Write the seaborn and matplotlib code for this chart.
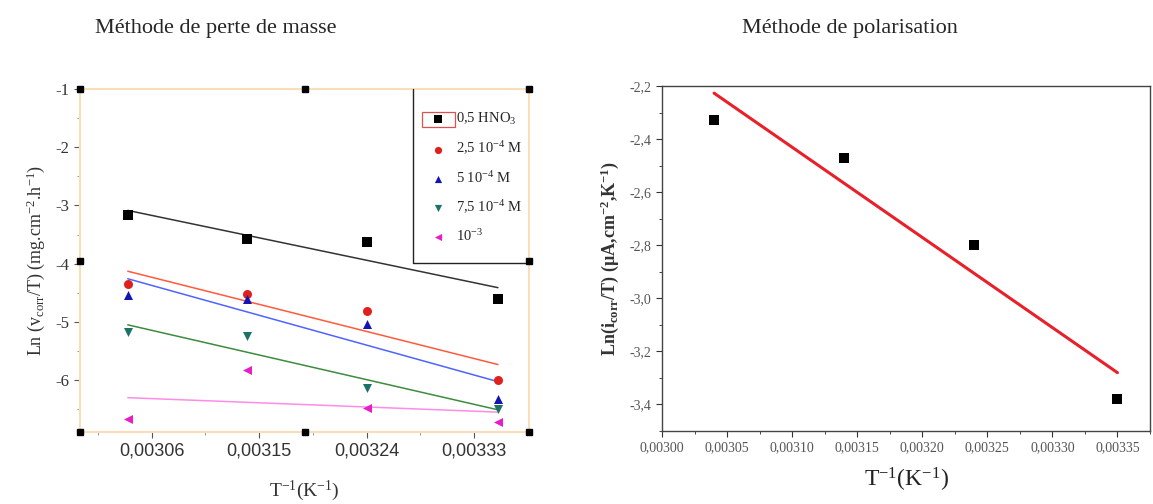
import numpy as np
import pandas as pd
import matplotlib
matplotlib.use("Agg")
import matplotlib.pyplot as plt
import matplotlib.ticker as mticker
from matplotlib.patches import Rectangle
import seaborn as sns

# inverse temperatures (1/K)
inv_T = [0.00304, 0.00314, 0.00324, 0.00335]

# left panel: mass loss method, Ln(v_corr/T)
ln_v_blank = [-3.16, -3.57, -3.62, -4.60]
ln_v_25 = [-4.34, -4.52, -4.81, -6.00]
ln_v_5 = [-4.54, -4.60, -5.04, -6.33]
ln_v_75 = [-5.18, -5.25, -6.14, -6.50]
ln_v_10 = [-6.67, -5.83, -6.47, -6.72]
series_labels = ["0,5 HNO$\\mathregular{_3}$", "2,5 10$\\mathregular{^{-4}}$ M",
                 "5 10$\\mathregular{^{-4}}$ M", "7,5 10$\\mathregular{^{-4}}$ M",
                 "10$\\mathregular{^{-3}}$"]

# right panel: polarisation method, Ln(i_corr/T)
ln_i = [-2.33, -2.47, -2.80, -3.38]

sns.set_style("ticks")
plt.rcParams['font.family'] = ['Liberation Serif', 'DejaVu Serif']
plt.rcParams['mathtext.fontset'] = 'stix'

fig = plt.figure(figsize=(11.53, 5.04), dpi=100)
ax1 = fig.add_axes([80/1153, 1-432/504, 449/1153, 343/504])
ax2 = fig.add_axes([662/1153, 1-431/504, 488/1153, 345/504])

# ---- left panel
styles = [
    (ln_v_blank, "s", "#000000", "#333333"),
    (ln_v_25, "o", "#e0201c", "#ff5a3c"),
    (ln_v_5, "^", "#1414b4", "#4f63ff"),
    (ln_v_75, "v", "#1d7268", "#3d8c3d"),
    (ln_v_10, "<", "#e61ec8", "#ff8ce6"),
]
df_left = pd.DataFrame({"x": inv_T})
for (vals, mk, mc, lc), lab in zip(styles, series_labels):
    df_left["y"] = vals
    sns.regplot(data=df_left, x="x", y="y", ax=ax1, ci=None, marker=mk, label=lab,
                scatter_kws={"color": mc, "s": 42, "alpha": 1, "zorder": 3,
                             "linewidths": 0},
                line_kws={"color": lc, "lw": 1.1, "zorder": 2})

ax1.set_xlim(0.003, 0.003376)
ax1.set_ylim(-6.89, -1.0)
ax1.xaxis.set_major_locator(mticker.MultipleLocator(0.00009))
ax1.xaxis.set_minor_locator(mticker.MultipleLocator(0.000045))
ax1.yaxis.set_major_locator(mticker.MultipleLocator(1))
ax1.yaxis.set_minor_locator(mticker.MultipleLocator(0.5))
ax1.xaxis.set_major_formatter(mticker.FuncFormatter(lambda v, p: f"{v:.5f}".replace(".", ",")))
ax1.yaxis.set_major_formatter(mticker.FuncFormatter(lambda v, p: f"{v:.0f}"))
for lbl in ax1.get_xticklabels():
    lbl.set_family("Liberation Sans")
ax1.tick_params(axis="x", labelsize=13, colors="#555555", labelcolor="#333333", length=4, width=0.8)
ax1.tick_params(axis="y", labelsize=12, colors="#555555", labelcolor="#333333", length=4, width=0.8)
ax1.tick_params(which="minor", length=2, colors="#888888")
for sp in ax1.spines.values():
    sp.set_color("#f8dfb8")
    sp.set_linewidth(1.5)
ax1.set_xlabel("T$\\mathregular{^{-1}}$(K$\\mathregular{^{-1}}$)", fontsize=14, color="#333333", labelpad=14)
ax1.set_ylabel("Ln (v$\\mathregular{_{corr}}$/T) (mg.cm$\\mathregular{^{-2}}$.h$\\mathregular{^{-1}}$)",
               fontsize=13, color="#333333", labelpad=6)

# legend box (left and bottom edges drawn in black)
ax1.legend(loc="upper left", bbox_to_anchor=(0.78, 0.935), frameon=False, fontsize=10.5,
           labelspacing=0.85, handlelength=1.0, handletextpad=0.75, borderaxespad=0,
           borderpad=0, markerscale=0.8)
ax1.plot([0.742, 0.742, 1.0], [1.0, 0.493, 0.493], transform=ax1.transAxes,
         color="#222222", lw=1.0, clip_on=False, zorder=4)
ax1.add_patch(Rectangle((0.762, 0.889), 0.0735, 0.044, transform=ax1.transAxes,
                        fill=False, edgecolor="#e05050", lw=0.9, zorder=4))

# selection handles around the pasted picture
hx = [0, 0.5, 1, 0, 1, 0, 0.5, 1]
hy = [0, 0, 0, 0.5, 0.5, 1, 1, 1]
ax1.plot(hx, hy, "s", color="black", ms=5, transform=ax1.transAxes, clip_on=False, zorder=5)

# ---- right panel
df_right = pd.DataFrame({"x": inv_T, "y": ln_i})
sns.regplot(data=df_right, x="x", y="y", ax=ax2, ci=None, marker="s",
            scatter_kws={"color": "black", "s": 45, "alpha": 1, "zorder": 3, "linewidths": 0},
            line_kws={"color": "#e8202a", "lw": 2.2, "zorder": 2})
ax2.set_xlim(0.0030, 0.003375)
ax2.set_ylim(-3.5, -2.2)
ax2.xaxis.set_major_locator(mticker.MultipleLocator(0.00005))
ax2.xaxis.set_minor_locator(mticker.MultipleLocator(0.000025))
ax2.yaxis.set_major_locator(mticker.MultipleLocator(0.2))
ax2.yaxis.set_minor_locator(mticker.MultipleLocator(0.1))
ax2.xaxis.set_major_formatter(mticker.FuncFormatter(lambda v, p: f"{v:.5f}".replace(".", ",")))
ax2.yaxis.set_major_formatter(mticker.FuncFormatter(lambda v, p: f"{v:.1f}".replace(".", ",")))
ax2.tick_params(labelsize=10, colors="#333333", labelcolor="#555555", length=4, width=0.8)
ax2.tick_params(which="minor", length=2)
for sp in ax2.spines.values():
    sp.set_color("#444444")
    sp.set_linewidth(1.0)
ax2.set_xlabel("T$\\mathregular{^{-1}}$(K$\\mathregular{^{-1}}$)", fontsize=17, color="#222222", labelpad=8)
ax2.set_ylabel("Ln(i$\\mathregular{_{corr}}$/T) (µA,cm$\\mathregular{^{-2}}$,K$\\mathregular{^{-1}}$)",
               fontsize=13, fontweight="bold", color="#333333", labelpad=6)

# panel titles
fig.text(95/1153, 1-28/504, "Méthode de perte de masse", fontsize=16, va="center", ha="left")
fig.text(742/1153, 1-28/504, "Méthode de polarisation", fontsize=16, va="center", ha="left")

fig.savefig("out.png", dpi=100)
